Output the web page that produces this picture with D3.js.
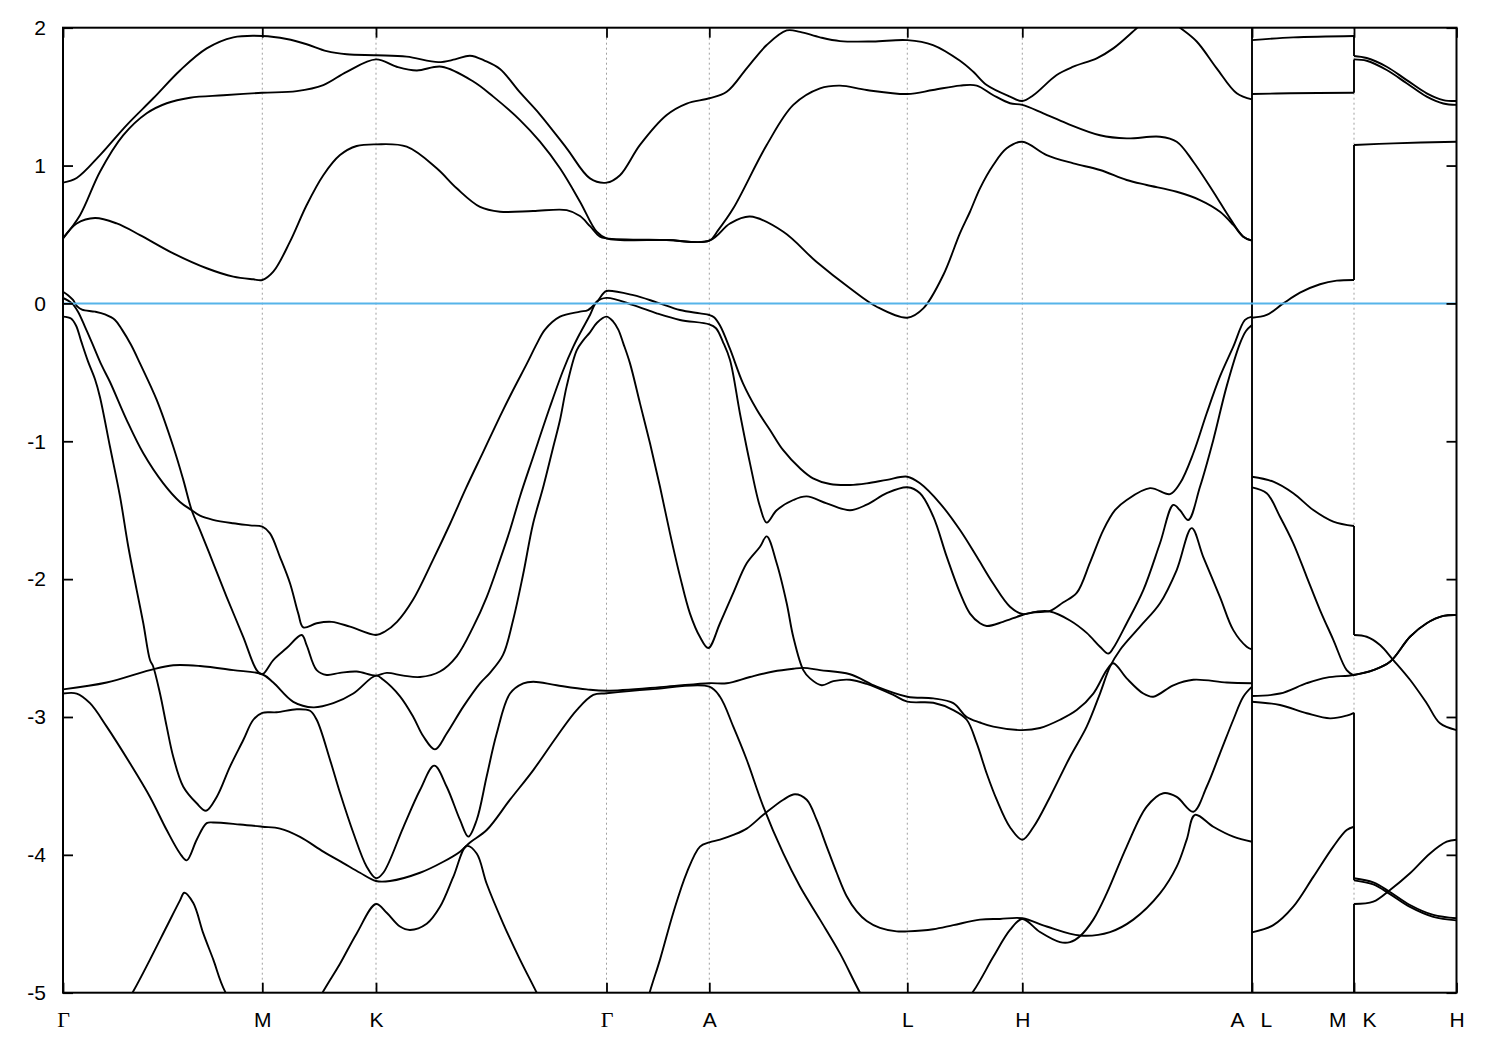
<!DOCTYPE html>
<html>
<head>
<meta charset="utf-8">
<script src="https://cdn.jsdelivr.net/npm/d3@7"></script>
<style>
  html, body { margin: 0; padding: 0; background: #fff; }
  svg { display: block; }
</style>
</head>
<body>
<script>
// ---------- data ----------
const kTicks = [0, 1.993, 3.13, 5.435, 6.463, 8.443, 9.593, 11.89, 12.91, 13.935];
const kLabels = ["Γ", "M", "K", "Γ", "A", "L", "H", "A|L", "M|K", "H"];
const eTicks = [-5, -4, -3, -2, -1, 0, 1, 2];
const eRange = [-5, 2];
const eFermi = 0;
const kBreak = 11.89; // A|L discontinuity

// Γ-M-K-Γ-A-L-H-A path bands  [k, E(eV)]
const bandU1 = [[0,0.876],[0.137,0.91],[0.37,1.076],[0.637,1.294],[0.903,1.488],[1.17,1.69],[1.437,1.85],[1.703,1.93],[1.993,1.94],[2.237,1.918],[2.437,1.88],[2.637,1.83],[2.837,1.807],[3.13,1.80],[3.437,1.79],[3.753,1.75],[3.92,1.77],[4.07,1.797],[4.22,1.76],[4.37,1.70],[4.57,1.53],[4.77,1.37],[5.037,1.125],[5.27,0.907],[5.435,0.876],[5.57,0.93],[5.77,1.15],[6.037,1.367],[6.237,1.45],[6.463,1.488],[6.637,1.535],[6.837,1.705],[7.037,1.874],[7.237,1.98],[7.37,1.97],[7.57,1.93],[7.77,1.903],[8.10,1.90],[8.443,1.91],[8.70,1.874],[8.97,1.76],[9.103,1.68],[9.237,1.584],[9.47,1.50],[9.593,1.468],[9.703,1.51],[9.937,1.657],[10.103,1.717],[10.337,1.778],[10.503,1.85],[10.737,1.996],[10.87,2.08],[11.02,2.08],[11.17,2.0],[11.337,1.90],[11.537,1.705],[11.737,1.524],[11.89,1.48]];
const bandU2 = [[0,0.472],[0.17,0.64],[0.37,0.955],[0.603,1.22],[0.837,1.379],[1.037,1.452],[1.27,1.492],[1.603,1.51],[1.993,1.528],[2.337,1.54],[2.603,1.584],[2.837,1.68],[3.13,1.77],[3.337,1.717],[3.537,1.69],[3.787,1.717],[4.103,1.61],[4.303,1.50],[4.57,1.33],[4.77,1.173],[4.97,0.98],[5.17,0.738],[5.337,0.52],[5.435,0.472],[6.037,0.46],[6.463,0.455],[6.55,0.53],[6.703,0.69],[7.037,1.149],[7.303,1.44],[7.57,1.56],[7.77,1.58],[8.037,1.548],[8.443,1.519],[8.70,1.548],[8.97,1.58],[9.137,1.58],[9.303,1.51],[9.47,1.452],[9.593,1.44],[9.803,1.379],[10.037,1.306],[10.37,1.22],[10.637,1.197],[10.97,1.209],[11.137,1.173],[11.303,1.028],[11.503,0.81],[11.67,0.617],[11.803,0.484],[11.89,0.455]];
const bandU3 = [[0,0.472],[0.137,0.58],[0.32,0.62],[0.537,0.58],[0.77,0.496],[1.103,0.363],[1.437,0.255],[1.703,0.194],[1.903,0.175],[1.993,0.17],[2.103,0.23],[2.27,0.448],[2.437,0.714],[2.603,0.93],[2.77,1.076],[2.937,1.142],[3.13,1.154],[3.437,1.137],[3.737,0.98],[3.937,0.835],[4.17,0.70],[4.37,0.665],[4.70,0.67],[5.037,0.677],[5.17,0.634],[5.27,0.56],[5.37,0.484],[5.435,0.472],[6.037,0.46],[6.463,0.455],[6.67,0.58],[6.87,0.63],[7.203,0.52],[7.537,0.30],[7.87,0.11],[8.137,-0.024],[8.443,-0.104],[8.603,-0.036],[8.803,0.206],[8.97,0.51],[9.07,0.665],[9.17,0.835],[9.303,1.004],[9.437,1.125],[9.593,1.173],[9.837,1.076],[10.103,1.016],[10.37,0.968],[10.637,0.895],[10.837,0.859],[11.137,0.81],[11.37,0.75],[11.57,0.665],[11.703,0.569],[11.803,0.484],[11.89,0.455]];
const bandV1 = [[0,0.085],[0.05,0.06],[0.10,0.025],[0.14,-0.02],[0.19,-0.045],[0.32,-0.06],[0.42,-0.08],[0.52,-0.12],[0.59,-0.19],[0.68,-0.30],[0.77,-0.435],[0.937,-0.70],[1.103,-1.04],[1.203,-1.28],[1.287,-1.50],[1.37,-1.644],[1.503,-1.885],[1.637,-2.13],[1.803,-2.42],[1.937,-2.66],[1.993,-2.69],[2.103,-2.587],[2.237,-2.50],[2.387,-2.405],[2.437,-2.48],[2.537,-2.66],[2.637,-2.695],[2.77,-2.68],[2.937,-2.67],[3.13,-2.70],[3.237,-2.68],[3.403,-2.70],[3.57,-2.71],[3.77,-2.67],[3.937,-2.56],[4.103,-2.345],[4.237,-2.13],[4.37,-1.86],[4.47,-1.644],[4.57,-1.40],[4.703,-1.11],[4.87,-0.75],[5.003,-0.483],[5.103,-0.314],[5.17,-0.217],[5.27,-0.084],[5.337,0.012],[5.435,0.04],[5.703,-0.012],[5.937,-0.072],[6.17,-0.12],[6.463,-0.152],[6.53,-0.18],[6.60,-0.28],[6.67,-0.41],[6.77,-0.80],[6.87,-1.16],[6.97,-1.475],[7.037,-1.59],[7.137,-1.50],[7.303,-1.426],[7.437,-1.40],[7.637,-1.45],[7.87,-1.5],[8.037,-1.46],[8.237,-1.377],[8.443,-1.334],[8.57,-1.377],[8.703,-1.547],[8.837,-1.837],[8.97,-2.1],[9.07,-2.25],[9.17,-2.32],[9.237,-2.34],[9.40,-2.31],[9.593,-2.26],[9.737,-2.236],[9.87,-2.235],[10.07,-2.30],[10.237,-2.39],[10.37,-2.49],[10.453,-2.54],[10.503,-2.50],[10.637,-2.32],[10.803,-2.08],[10.97,-1.74],[11.103,-1.462],[11.17,-1.5],[11.253,-1.571],[11.37,-1.33],[11.503,-0.99],[11.637,-0.60],[11.77,-0.29],[11.83,-0.2],[11.89,-0.157]];
const bandV2 = [[0,0.04],[0.09,0.0],[0.15,-0.06],[0.22,-0.17],[0.287,-0.28],[0.387,-0.45],[0.47,-0.57],[0.637,-0.846],[0.803,-1.087],[1.003,-1.305],[1.17,-1.44],[1.287,-1.50],[1.37,-1.54],[1.50,-1.57],[1.70,-1.595],[1.87,-1.61],[1.993,-1.62],[2.07,-1.668],[2.17,-1.84],[2.27,-2.03],[2.353,-2.25],[2.403,-2.35],[2.537,-2.32],[2.687,-2.31],[2.87,-2.345],[3.13,-2.405],[3.22,-2.38],[3.34,-2.31],[3.50,-2.15],[3.70,-1.86],[3.87,-1.6],[4.03,-1.34],[4.20,-1.08],[4.37,-0.82],[4.50,-0.63],[4.64,-0.435],[4.74,-0.29],[4.82,-0.19],[4.97,-0.096],[5.17,-0.06],[5.25,-0.048],[5.34,0.012],[5.40,0.07],[5.435,0.09],[5.703,0.06],[5.937,0.008],[6.17,-0.048],[6.37,-0.072],[6.463,-0.084],[6.51,-0.1],[6.57,-0.16],[6.67,-0.33],[6.80,-0.58],[6.94,-0.773],[7.07,-0.918],[7.20,-1.063],[7.37,-1.196],[7.50,-1.269],[7.67,-1.31],[7.87,-1.317],[8.04,-1.305],[8.24,-1.28],[8.443,-1.257],[8.57,-1.305],[8.77,-1.45],[8.97,-1.644],[9.14,-1.84],[9.30,-2.03],[9.47,-2.2],[9.593,-2.253],[9.72,-2.24],[9.87,-2.23],[10.00,-2.17],[10.137,-2.10],[10.27,-1.88],[10.403,-1.644],[10.52,-1.5],[10.637,-1.426],[10.87,-1.34],[11.07,-1.383],[11.17,-1.305],[11.303,-1.087],[11.437,-0.797],[11.57,-0.53],[11.703,-0.314],[11.82,-0.12],[11.89,-0.096]];
const bandV3 = [[0,-0.096],[0.08,-0.11],[0.13,-0.16],[0.18,-0.27],[0.25,-0.42],[0.32,-0.55],[0.37,-0.68],[0.47,-1.04],[0.57,-1.40],[0.653,-1.765],[0.737,-2.08],[0.803,-2.32],[0.87,-2.587],[0.90,-2.63],[0.97,-2.83],[1.037,-3.07],[1.103,-3.29],[1.203,-3.506],[1.337,-3.626],[1.43,-3.68],[1.537,-3.58],[1.67,-3.36],[1.803,-3.167],[1.903,-3.02],[1.993,-2.97],[2.137,-2.966],[2.337,-2.944],[2.47,-2.955],[2.537,-3.02],[2.67,-3.31],[2.77,-3.55],[2.903,-3.84],[3.037,-4.086],[3.13,-4.17],[3.203,-4.13],[3.403,-3.80],[3.57,-3.53],[3.713,-3.353],[3.837,-3.506],[3.97,-3.747],[4.053,-3.868],[4.137,-3.747],[4.237,-3.43],[4.337,-3.12],[4.47,-2.83],[4.603,-2.756],[4.703,-2.744],[4.937,-2.77],[5.237,-2.80],[5.435,-2.81],[6.037,-2.78],[6.463,-2.755],[6.637,-2.755],[6.87,-2.71],[7.103,-2.67],[7.303,-2.65],[7.403,-2.644],[7.57,-2.66],[7.87,-2.69],[8.137,-2.78],[8.443,-2.853],[8.703,-2.865],[8.903,-2.90],[9.037,-3.0],[9.17,-3.04],[9.303,-3.07],[9.593,-3.095],[9.77,-3.08],[9.97,-3.02],[10.137,-2.95],[10.303,-2.83],[10.437,-2.66],[10.503,-2.61],[10.637,-2.72],[10.803,-2.83],[10.903,-2.853],[11.103,-2.77],[11.303,-2.73],[11.637,-2.75],[11.89,-2.755]];
const bandV4 = [[0,-2.80],[0.437,-2.75],[0.87,-2.66],[1.103,-2.625],[1.37,-2.63],[1.703,-2.66],[1.993,-2.69],[2.103,-2.75],[2.303,-2.89],[2.503,-2.93],[2.703,-2.90],[2.903,-2.83],[3.13,-2.70],[3.203,-2.73],[3.37,-2.85],[3.503,-3.0],[3.603,-3.14],[3.72,-3.235],[3.837,-3.12],[4.003,-2.925],[4.17,-2.756],[4.27,-2.68],[4.40,-2.55],[4.50,-2.3],[4.60,-1.97],[4.70,-1.6],[4.803,-1.33],[4.903,-1.04],[4.97,-0.846],[5.037,-0.60],[5.137,-0.34],[5.20,-0.27],[5.27,-0.21],[5.34,-0.14],[5.435,-0.096],[5.50,-0.13],[5.553,-0.19],[5.603,-0.29],[5.67,-0.435],[5.77,-0.725],[5.87,-1.015],[5.97,-1.33],[6.07,-1.668],[6.17,-1.98],[6.27,-2.25],[6.37,-2.42],[6.453,-2.50],[6.57,-2.32],[6.703,-2.10],[6.837,-1.885],[6.97,-1.765],[7.037,-1.69],[7.137,-1.885],[7.237,-2.175],[7.303,-2.42],[7.403,-2.66],[7.47,-2.72],[7.587,-2.77],[7.703,-2.74],[7.87,-2.73],[8.037,-2.76],[8.303,-2.84],[8.443,-2.889],[8.703,-2.897],[8.903,-2.95],[9.037,-3.02],[9.137,-3.19],[9.237,-3.41],[9.337,-3.60],[9.47,-3.80],[9.593,-3.89],[9.703,-3.80],[9.87,-3.58],[10.07,-3.29],[10.237,-3.07],[10.37,-2.83],[10.47,-2.635],[10.57,-2.514],[10.77,-2.345],[10.97,-2.175],[11.137,-1.934],[11.287,-1.63],[11.403,-1.84],[11.57,-2.13],[11.703,-2.37],[11.837,-2.49],[11.89,-2.51]];
const bandV5 = [[0,-2.83],[0.137,-2.83],[0.27,-2.90],[0.437,-3.07],[0.67,-3.336],[0.87,-3.58],[1.037,-3.82],[1.17,-3.99],[1.237,-4.04],[1.337,-3.89],[1.437,-3.77],[1.503,-3.765],[1.77,-3.78],[1.993,-3.796],[2.17,-3.81],[2.37,-3.87],[2.603,-3.977],[2.803,-4.06],[2.97,-4.13],[3.13,-4.19],[3.27,-4.19],[3.57,-4.13],[3.803,-4.05],[3.97,-3.977],[4.07,-3.91],[4.237,-3.82],[4.47,-3.60],[4.703,-3.385],[4.937,-3.143],[5.137,-2.95],[5.303,-2.84],[5.435,-2.828],[5.87,-2.80],[6.463,-2.78],[6.57,-2.853],[6.703,-3.07],[6.837,-3.31],[7.003,-3.65],[7.203,-3.99],[7.37,-4.23],[7.57,-4.47],[7.77,-4.715],[7.97,-5.0],[8.17,-5.25],[8.443,-5.35],[8.77,-5.3],[9.103,-4.99],[9.303,-4.74],[9.47,-4.545],[9.593,-4.465],[9.77,-4.56],[9.97,-4.633],[10.07,-4.633],[10.17,-4.59],[10.303,-4.47],[10.437,-4.28],[10.637,-3.94],[10.837,-3.65],[11.003,-3.553],[11.137,-3.58],[11.303,-3.687],[11.437,-3.506],[11.57,-3.264],[11.703,-3.02],[11.803,-2.853],[11.89,-2.78]];
const bandV6 = [[0,-5.6],[0.37,-5.4],[0.703,-4.99],[0.87,-4.76],[1.037,-4.52],[1.17,-4.33],[1.213,-4.275],[1.303,-4.35],[1.403,-4.57],[1.503,-4.76],[1.62,-4.99],[1.993,-5.4],[2.37,-5.3],[2.603,-4.99],[2.77,-4.79],[2.937,-4.57],[3.13,-4.357],[3.237,-4.42],[3.37,-4.52],[3.47,-4.545],[3.637,-4.50],[3.77,-4.377],[3.903,-4.16],[4.037,-3.936],[4.137,-3.99],[4.237,-4.21],[4.403,-4.50],[4.57,-4.76],[4.737,-5.0],[5.07,-5.5],[5.435,-5.7],[5.67,-5.5],[5.87,-4.99],[5.97,-4.76],[6.103,-4.42],[6.237,-4.13],[6.37,-3.94],[6.463,-3.91],[6.57,-3.89],[6.703,-3.856],[6.837,-3.81],[7.003,-3.71],[7.203,-3.60],[7.32,-3.56],[7.437,-3.60],[7.537,-3.747],[7.637,-3.94],[7.737,-4.13],[7.837,-4.30],[7.937,-4.41],[8.037,-4.48],[8.17,-4.53],[8.337,-4.555],[8.443,-4.555],[8.703,-4.54],[8.903,-4.51],[9.17,-4.47],[9.37,-4.465],[9.593,-4.46],[9.837,-4.52],[10.17,-4.585],[10.47,-4.56],[10.703,-4.47],[10.97,-4.28],[11.137,-4.086],[11.237,-3.89],[11.32,-3.71],[11.503,-3.796],[11.703,-3.868],[11.89,-3.905]];

// L-M | K-H bands (equal k twice = jump at the M|K discontinuity)
const bandP1 = [[11.89,1.91],[12.303,1.93],[12.91,1.94],[12.91,1.795],[13.037,1.78],[13.237,1.717],[13.437,1.62],[13.637,1.524],[13.803,1.475],[13.935,1.468]];
const bandP2 = [[11.89,1.519],[12.27,1.524],[12.91,1.528],[12.91,1.77],[13.037,1.76],[13.237,1.693],[13.437,1.597],[13.637,1.50],[13.803,1.45],[13.935,1.44]];
const bandP3 = [[11.89,-0.104],[12.037,-0.084],[12.203,0.0],[12.37,0.078],[12.57,0.139],[12.737,0.165],[12.91,0.17],[12.91,1.149],[13.303,1.161],[13.935,1.173]];
const bandP4 = [[11.89,-1.257],[12.103,-1.293],[12.303,-1.377],[12.503,-1.499],[12.703,-1.583],[12.91,-1.615],[12.91,-2.405],[13.037,-2.418],[13.17,-2.478],[13.303,-2.587],[13.47,-2.73],[13.637,-2.90],[13.77,-3.046],[13.935,-3.095]];
const bandP5 = [[11.89,-1.334],[12.037,-1.377],[12.17,-1.547],[12.303,-1.74],[12.437,-1.983],[12.57,-2.224],[12.703,-2.44],[12.837,-2.66],[12.91,-2.70],[12.91,-2.695],[13.103,-2.66],[13.27,-2.6],[13.47,-2.418],[13.637,-2.32],[13.803,-2.267],[13.935,-2.26]];
const bandP6 = [[11.89,-2.848],[12.17,-2.83],[12.437,-2.755],[12.637,-2.714],[12.91,-2.695],[13.103,-2.66],[13.27,-2.6],[13.47,-2.418],[13.637,-2.32],[13.803,-2.267],[13.935,-2.26]];
const bandP7 = [[11.89,-2.889],[12.17,-2.913],[12.437,-2.973],[12.67,-3.01],[12.837,-2.99],[12.91,-2.97],[12.91,-4.17],[13.103,-4.20],[13.27,-4.27],[13.47,-4.364],[13.703,-4.436],[13.935,-4.46]];
const bandP8 = [[11.89,-4.562],[12.103,-4.51],[12.303,-4.376],[12.503,-4.16],[12.703,-3.94],[12.837,-3.82],[12.91,-3.796],[12.91,-4.185],[13.103,-4.215],[13.27,-4.285],[13.47,-4.378],[13.703,-4.45],[13.935,-4.475]];
const bandP9 = [[11.89,-5.5],[12.91,-5.5],[12.91,-4.357],[13.103,-4.34],[13.27,-4.255],[13.47,-4.134],[13.67,-3.99],[13.837,-3.905],[13.935,-3.89]];

const bands = [bandU1, bandU2, bandU3, bandV1, bandV2, bandV3, bandV4, bandV5, bandV6,
               bandP1, bandP2, bandP3, bandP4, bandP5, bandP6, bandP7, bandP8, bandP9];

// ---------- drawing ----------
const W = 1500, H = 1050;
const plot = { left: 63, right: 1456.5, top: 27.7, bottom: 992.7 };
const bandWidth = 1.9;
const labelFont = "'Liberation Sans', Arial, sans-serif";

const x = d3.scaleLinear().domain([kTicks[0], kTicks[kTicks.length - 1]]).range([plot.left, plot.right]);
const y = d3.scaleLinear().domain(eRange).range([plot.bottom, plot.top]);

const svg = d3.select("body").append("svg").attr("width", W).attr("height", H)
  .style("font-family", labelFont);
svg.append("rect").attr("width", W).attr("height", H).attr("fill", "#fff");

svg.append("defs").append("clipPath").attr("id", "clip")
  .append("rect").attr("x", plot.left).attr("y", plot.top)
  .attr("width", plot.right - plot.left).attr("height", plot.bottom - plot.top);

// dashed grid at high-symmetry points
svg.append("g").selectAll("line").data(kTicks.slice(1, -1)).join("line")
  .attr("x1", d => x(d)).attr("x2", d => x(d))
  .attr("y1", y(eRange[1])).attr("y2", y(eRange[0]))
  .attr("stroke", "#a0a0a0").attr("stroke-width", 1).attr("stroke-dasharray", "2,3");

// bands
const line = d3.line().x(d => x(d[0])).y(d => y(d[1])).curve(d3.curveCatmullRom.alpha(0.5));
const straight = d3.line().x(d => x(d[0])).y(d => y(d[1])).curve(d3.curveLinear);
const gBands = svg.append("g").attr("clip-path", "url(#clip)")
  .attr("fill", "none").attr("stroke", "#000").attr("stroke-width", bandWidth)
  .attr("stroke-linejoin", "round");
bands.forEach(band => {
  let run = [band[0]];
  for (let i = 1; i < band.length; i++) {
    if (band[i][0] === band[i - 1][0]) {
      gBands.append("path").attr("d", line(run));
      gBands.append("path").attr("d", straight([band[i - 1], band[i]]));
      run = [band[i]];
    } else run.push(band[i]);
  }
  gBands.append("path").attr("d", line(run));
});

// A|L separator
gBands.append("line").attr("x1", x(kBreak)).attr("x2", x(kBreak))
  .attr("y1", y(eRange[1])).attr("y2", y(eRange[0]));

// Fermi level
svg.append("line").attr("x1", x(kTicks[0])).attr("x2", x(kTicks[kTicks.length - 1]))
  .attr("y1", y(eFermi)).attr("y2", y(eFermi))
  .attr("stroke", "#56b4e9").attr("stroke-width", 2);

// axes
const fmt = d => String(d);
const axL = svg.append("g").attr("transform", `translate(${plot.left},0)`)
  .call(d3.axisLeft(y).tickValues(eTicks).tickFormat(fmt).tickSizeInner(-10).tickSizeOuter(0).tickPadding(17));
const axR = svg.append("g").attr("transform", `translate(${plot.right},0)`)
  .call(d3.axisRight(y).tickValues(eTicks).tickFormat("").tickSizeInner(-10).tickSizeOuter(0));
const axT = svg.append("g").attr("transform", `translate(0,${plot.top})`)
  .call(d3.axisTop(x).tickValues(kTicks).tickFormat("").tickSizeInner(-10).tickSizeOuter(0));
const axB = svg.append("g").attr("transform", `translate(0,${plot.bottom})`)
  .call(d3.axisBottom(x).tickValues(kTicks).tickFormat((d, i) => kLabels[i]).tickSizeInner(-10).tickSizeOuter(0).tickPadding(19));

[axL, axR, axT, axB].forEach(a => {
  a.select(".domain").remove();
  a.selectAll(".tick line").attr("stroke", "#000").attr("stroke-width", 1.8);
  a.selectAll("text").attr("fill", "#000").style("font-size", "21px")
    .style("font-family", labelFont);
});

axB.selectAll(".tick text").each(function (d, i) {
  const t = d3.select(this);
  const lab = kLabels[i];
  if (lab === "Γ") t.style("font-family", "'Liberation Serif', 'Times New Roman', serif").style("font-size", "22px");
  if (lab.includes("|")) {
    const [a, b] = lab.split("|");
    const yy = t.attr("y"), dy = t.attr("dy");
    const p = d3.select(this.parentNode);
    t.remove();
    p.append("text").attr("x", -8).attr("y", yy).attr("dy", dy).attr("text-anchor", "end")
      .attr("fill", "#000").style("font-size", "21px").style("font-family", labelFont).text(a);
    p.append("text").attr("x", 8).attr("y", yy).attr("dy", dy).attr("text-anchor", "start")
      .attr("fill", "#000").style("font-size", "21px").style("font-family", labelFont).text(b);
  }
});

// border
svg.append("rect").attr("x", plot.left).attr("y", plot.top)
  .attr("width", plot.right - plot.left).attr("height", plot.bottom - plot.top)
  .attr("fill", "none").attr("stroke", "#000").attr("stroke-width", 2);
</script>
</body>
</html>
